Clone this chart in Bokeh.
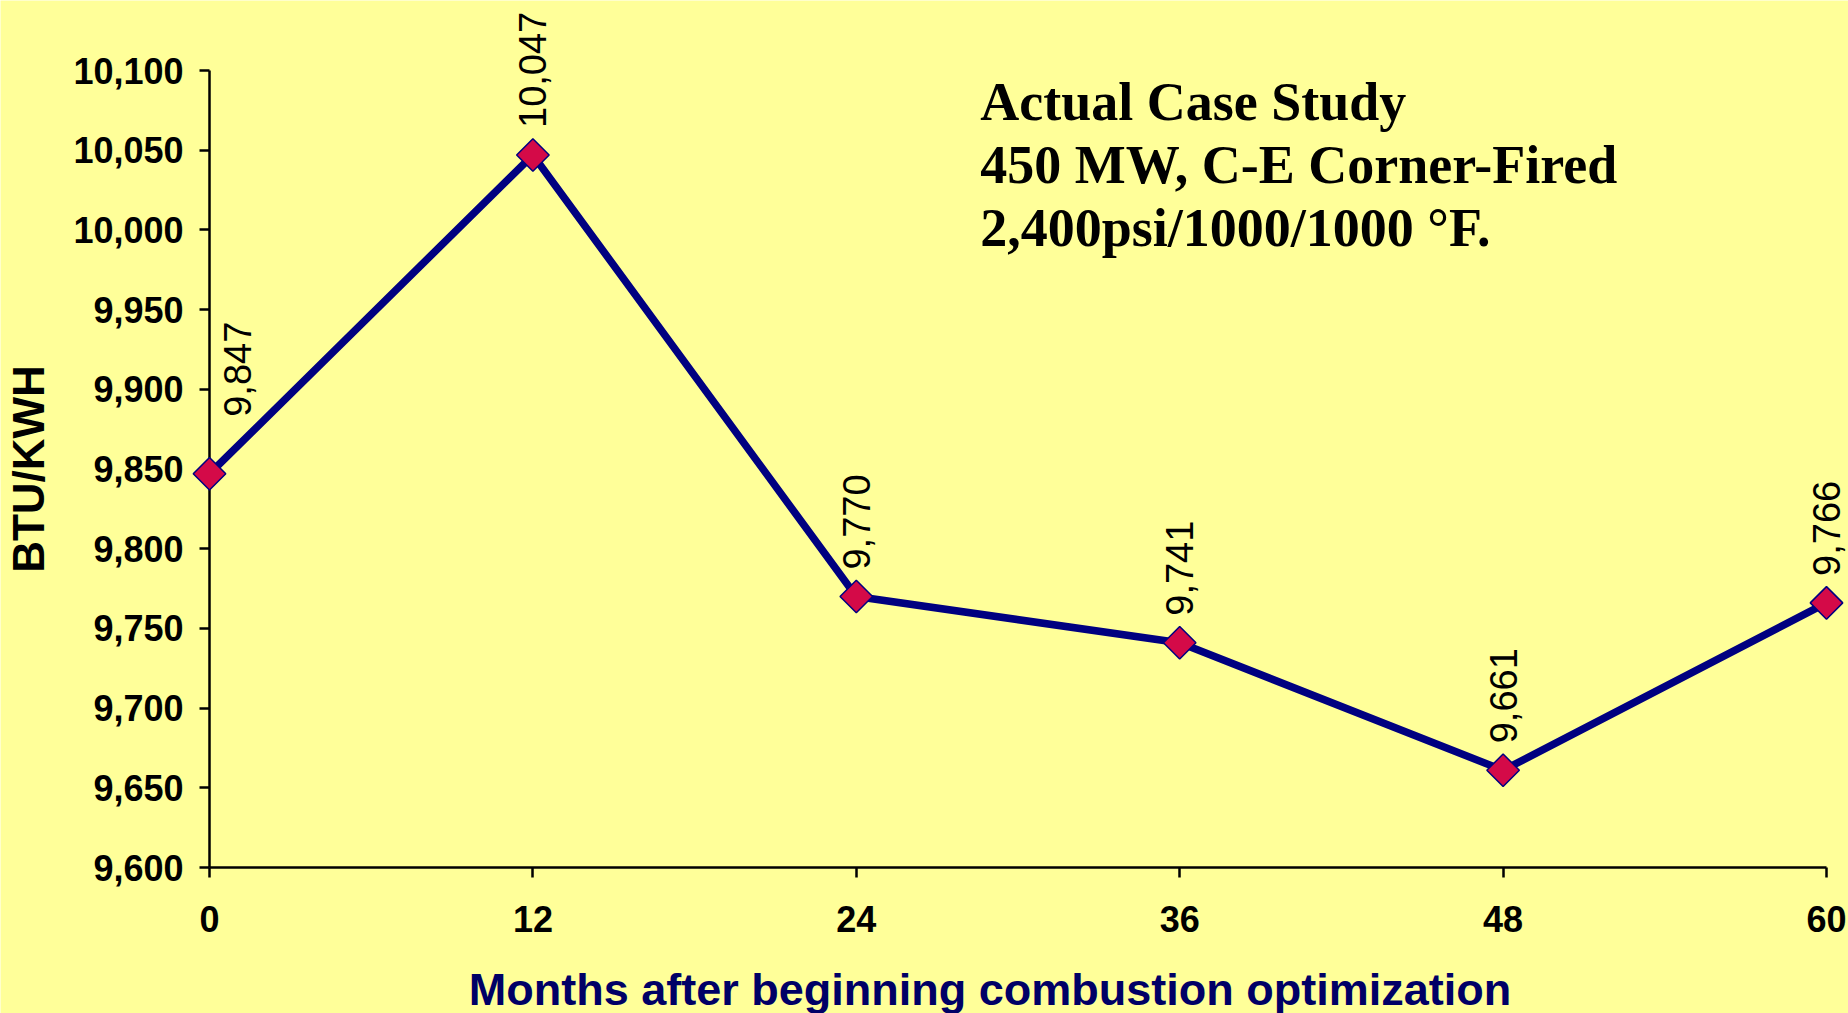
from bokeh.plotting import figure
from bokeh.models import (ColumnDataSource, Range1d, FixedTicker, NumeralTickFormatter,
                          LabelSet, Label)
from bokeh.embed import file_html
from bokeh.resources import INLINE
from bokeh.core.properties import value
import math

# ---- data ----
months = [0, 12, 24, 36, 48, 60]
heat_rate = [9847, 10047, 9770, 9741, 9661, 9766]
x_ticks = [0, 12, 24, 36, 48, 60]
y_ticks = [9600, 9650, 9700, 9750, 9800, 9850, 9900, 9950, 10000, 10050, 10100]
title_lines = ["Actual Case Study", "450 MW, C-E Corner-Fired", "2,400psi/1000/1000 \u00b0F."]
x_title = "Months after beginning combustion optimization"
y_title = "BTU/KWH"

BG = "#FFFF99"
NAVY = "#000080"
MARKER = "#D40A48"

X_MIN, X_MAX = 0, 60
Y_MIN, Y_MAX = 9600, 10100

# geometry (pixels): the frame fills the canvas; axes are drawn at fixed data
# locations so that nothing near the plot edges is clipped
W, H = 1848, 1013
AX_LEFT, AX_RIGHT, AX_TOP, AX_BOTTOM = 209, 1826, 70, 867
px_x = (AX_RIGHT - AX_LEFT) / (X_MAX - X_MIN)
px_y = (AX_BOTTOM - AX_TOP) / (Y_MAX - Y_MIN)
x_start = X_MIN - AX_LEFT / px_x
x_end = X_MAX + (W - AX_RIGHT) / px_x
y_start = Y_MIN - (H - AX_BOTTOM) / px_y
y_end = Y_MAX + AX_TOP / px_y

labels_txt = [f"{v:,}" for v in heat_rate]
src = ColumnDataSource(dict(x=months, y=heat_rate, t=labels_txt))
src_rest = ColumnDataSource(dict(x=months[1:], y=heat_rate[1:], t=labels_txt[1:]))

p = figure(width=W, height=H, output_backend="svg", toolbar_location=None, title=None,
           x_range=Range1d(x_start, x_end), y_range=Range1d(y_start, y_end),
           min_border_left=0, min_border_right=0, min_border_top=0, min_border_bottom=0)
p.background_fill_color = BG
p.border_fill_color = BG
p.outline_line_color = None
p.grid.visible = False

p.line("x", "y", source=src, line_color=NAVY, line_width=7.5)
p.scatter("x", "y", source=src, marker="square", angle=math.pi / 4, size=23,
          fill_color=MARKER, line_color=NAVY, line_width=1.5, level="overlay")

# data labels
common = dict(text_font_size="38px", text_color="black",
              angle=math.pi / 2, text_align="left", text_baseline="middle")
p.add_layout(LabelSet(x="x", y="y", text="t", source=src_rest, y_offset=27,
                      text_font=value("Liberation Sans"), **common))
p.add_layout(Label(x=months[0], y=heat_rate[0], text=labels_txt[0], x_offset=28, y_offset=57,
                   text_font="Liberation Sans", **common))

# annotation block
for i, line in enumerate(title_lines):
    p.add_layout(Label(x=28.6, y=10080, y_offset=-63 * i, text=line,
                       text_font="Liberation Serif", text_font_style="bold",
                       text_font_size="54px", text_color="black",
                       text_align="left", text_baseline="alphabetic"))

# x-axis title (centred a little left of the axis middle, as in the original)
p.add_layout(Label(x=(X_MIN + X_MAX) / 2, y=Y_MIN, x_offset=-28, y_offset=-96, text=x_title,
                   text_font="Liberation Sans", text_font_style="bold", text_font_size="45px",
                   text_color="#000066", text_align="center", text_baseline="top"))

# axes
for ax in (p.xaxis[0], p.yaxis[0]):
    ax.axis_line_color = "black"
    ax.axis_line_width = 2.5
    ax.major_tick_line_color = "black"
    ax.major_tick_line_width = 2.5
    ax.major_tick_in = 0
    ax.major_tick_out = 10
    ax.minor_tick_line_color = None
    ax.major_label_text_font = "Liberation Sans"
    ax.major_label_text_font_style = "bold"
    ax.major_label_text_font_size = "36px"
    ax.major_label_text_color = "black"
    ax.axis_label_text_font = "Liberation Sans"
    ax.axis_label_text_font_style = "bold"

p.xaxis.fixed_location = Y_MIN
p.xaxis.bounds = (X_MIN, X_MAX)
p.yaxis.fixed_location = X_MIN
p.yaxis.bounds = (Y_MIN, Y_MAX)

p.xaxis.ticker = FixedTicker(ticks=x_ticks)
p.yaxis.ticker = FixedTicker(ticks=y_ticks)
p.yaxis.formatter = NumeralTickFormatter(format="0,0")
p.xaxis.major_label_standoff = 28
p.yaxis.major_label_standoff = 16

p.yaxis.axis_label = y_title
p.yaxis.axis_label_text_font_size = "44px"
p.yaxis.axis_label_text_color = "black"
p.yaxis.axis_label_standoff = 17

open("out.html", "w").write(file_html(p, INLINE))
